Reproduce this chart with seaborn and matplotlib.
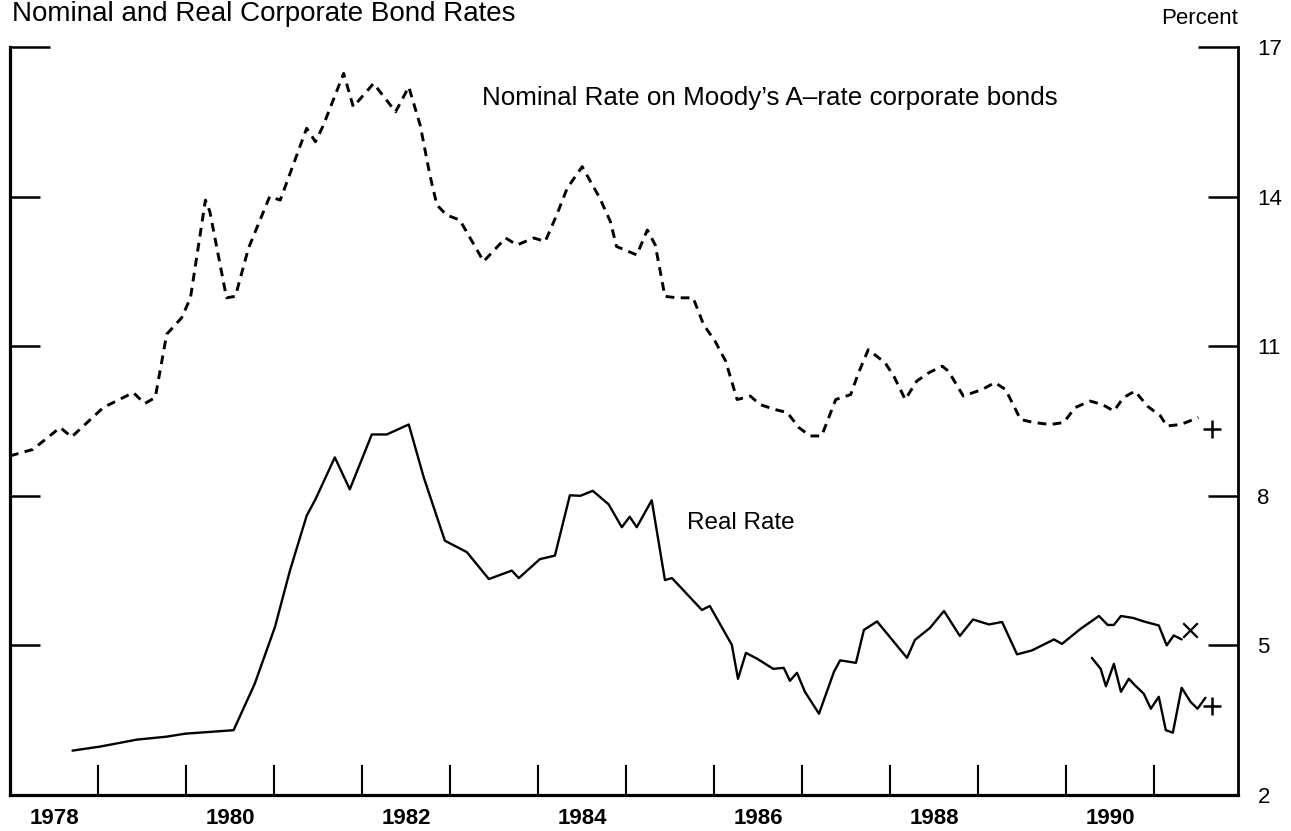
import matplotlib
matplotlib.use("Agg")
import matplotlib.pyplot as plt
import seaborn as sns

# nominal rate on Moody's A-rated corporate bonds (percent)
nominal_t = [1978.00, 1978.26, 1978.57, 1978.70, 1979.06, 1979.40, 1979.53, 1979.65, 1979.78,
             1979.95, 1980.05, 1980.22, 1980.27, 1980.46, 1980.56, 1980.71, 1980.95, 1981.07,
             1981.37, 1981.47, 1981.56, 1981.79, 1981.90, 1982.13, 1982.38, 1982.53, 1982.66,
             1982.77, 1982.85, 1982.96, 1983.11, 1983.38, 1983.63, 1983.76, 1983.95, 1984.08,
             1984.21, 1984.33, 1984.50, 1984.70, 1984.82, 1984.89, 1985.12, 1985.24, 1985.33,
             1985.44, 1985.58, 1985.76, 1985.88, 1986.01, 1986.13, 1986.26, 1986.41, 1986.52,
             1986.69, 1986.83, 1986.96, 1987.09, 1987.22, 1987.38, 1987.55, 1987.64, 1987.75,
             1987.94, 1988.04, 1988.17, 1988.30, 1988.44, 1988.59, 1988.66, 1988.83, 1989.04,
             1989.19, 1989.31, 1989.48, 1989.63, 1989.82, 1989.97, 1990.10, 1990.27, 1990.41,
             1990.54, 1990.65, 1990.78, 1990.92, 1991.07, 1991.14, 1991.30, 1991.50]
nominal_v = [8.80, 8.93, 9.37, 9.18, 9.77, 10.07, 9.85, 9.97, 11.24,
             11.57, 11.97, 13.93, 13.70, 11.97, 12.00, 12.97, 14.00, 13.93,
             15.37, 15.10, 15.43, 16.47, 15.80, 16.27, 15.70, 16.20, 15.43,
             14.43, 13.83, 13.63, 13.53, 12.70, 13.17, 13.03, 13.17, 13.10,
             13.63, 14.17, 14.60, 13.97, 13.50, 13.00, 12.83, 13.33, 13.03,
             12.00, 11.97, 11.97, 11.43, 11.10, 10.70, 9.93, 10.00, 9.83,
             9.73, 9.67, 9.37, 9.20, 9.20, 9.93, 10.03, 10.47, 10.93,
             10.67, 10.40, 9.93, 10.30, 10.47, 10.60, 10.50, 10.00, 10.13,
             10.27, 10.13, 9.53, 9.47, 9.43, 9.47, 9.77, 9.90, 9.83,
             9.70, 9.97, 10.10, 9.80, 9.60, 9.40, 9.43, 9.57]

# real rate (percent)
real_t = [1978.71, 1979.02, 1979.44, 1979.78, 1979.99, 1980.31, 1980.54, 1980.78, 1981.01,
          1981.18, 1981.37, 1981.47, 1981.69, 1981.86, 1982.11, 1982.28, 1982.53, 1982.70,
          1982.94, 1983.19, 1983.44, 1983.70, 1983.78, 1984.02, 1984.19, 1984.36, 1984.48,
          1984.62, 1984.80, 1984.95, 1985.04, 1985.12, 1985.29, 1985.44, 1985.52, 1985.86,
          1985.95, 1986.20, 1986.27, 1986.36, 1986.49, 1986.67, 1986.79, 1986.86, 1986.94,
          1987.03, 1987.19, 1987.36, 1987.43, 1987.61, 1987.70, 1987.85, 1988.19, 1988.28,
          1988.45, 1988.61, 1988.79, 1988.94, 1989.12, 1989.27, 1989.44, 1989.61, 1989.86,
          1989.95, 1990.16, 1990.37, 1990.47, 1990.54, 1990.62, 1990.76, 1990.88, 1991.05,
          1991.14, 1991.22, 1991.31]
real_v = [2.89, 2.97, 3.11, 3.17, 3.23, 3.27, 3.30, 4.23, 5.37,
          6.50, 7.60, 7.93, 8.77, 8.13, 9.23, 9.23, 9.43, 8.37,
          7.10, 6.87, 6.33, 6.50, 6.35, 6.73, 6.80, 8.01, 8.00,
          8.10, 7.83, 7.37, 7.58, 7.37, 7.91, 6.31, 6.35, 5.71,
          5.79, 5.01, 4.33, 4.85, 4.73, 4.53, 4.55, 4.29, 4.45,
          4.07, 3.63, 4.47, 4.70, 4.65, 5.31, 5.48, 4.75, 5.11,
          5.35, 5.69, 5.19, 5.52, 5.42, 5.47, 4.82, 4.90, 5.12,
          5.03, 5.33, 5.59, 5.41, 5.41, 5.59, 5.55, 5.48, 5.40,
          5.00, 5.20, 5.12]

# alternative real rate series from 1990
real2_t = [1990.29, 1990.39, 1990.45, 1990.54, 1990.62, 1990.71, 1990.78, 1990.88,
           1990.96, 1991.05, 1991.13, 1991.21, 1991.31, 1991.41, 1991.49, 1991.58]
real2_v = [4.75, 4.53, 4.18, 4.63, 4.07, 4.33, 4.20, 4.03,
           3.73, 3.97, 3.30, 3.25, 4.15, 3.87, 3.73, 3.95]

# end-point markers
plus_t = [1991.66, 1991.66]
plus_v = [9.33, 3.78]
cross_t = [1991.40]
cross_v = [5.31]

year_ticks = list(range(1979, 1992))
year_labels = ["1978", "1980", "1982", "1984", "1986", "1988", "1990"]
y_ticks = [2, 5, 8, 11, 14, 17]

sns.set_style("ticks")
plt.rcParams["font.family"] = ["Liberation Sans", "DejaVu Sans"]
plt.rcParams.update({"text.color": "black", "axes.edgecolor": "black",
                     "xtick.color": "black", "ytick.color": "black",
                     "axes.labelcolor": "black"})

fig = plt.figure(figsize=(12.91, 8.31), dpi=100)
ax = fig.add_axes([10 / 1291, 36 / 831, 1228 / 1291, 748 / 831])

sns.lineplot(x=nominal_t, y=nominal_v, ax=ax, color="black", lw=2.1,
             linestyle=(0, (3.0, 2.2)), estimator=None, errorbar=None)
sns.lineplot(x=real_t, y=real_v, ax=ax, color="black", lw=1.7,
             estimator=None, errorbar=None)
sns.lineplot(x=real2_t, y=real2_v, ax=ax, color="black", lw=1.7,
             estimator=None, errorbar=None)
sns.scatterplot(x=plus_t, y=plus_v, ax=ax, marker="+", s=150, color="black", linewidth=1.8)
sns.scatterplot(x=cross_t, y=cross_v, ax=ax, marker="x", s=110, color="black", linewidth=1.6)

ax.set_xlim(1978, 1991.95)
ax.set_ylim(2, 17)
ax.set_xlabel("")
ax.set_ylabel("")

# frame: no top spine
ax.spines["top"].set_visible(False)
for side in ["left", "bottom"]:
    ax.spines[side].set_linewidth(2.3)
ax.spines["right"].set_linewidth(2.0)

ax.set_xticks(year_ticks)
ax.set_xticklabels([])
ax.set_xticks([int(y) + 0.5 for y in year_labels], year_labels, minor=True)
ax.tick_params(axis="x", which="major", direction="in", length=21.5, width=1.5)
ax.tick_params(axis="x", which="minor", length=0, pad=9, labelsize=16)
for lab in ax.get_xticklabels(minor=True):
    lab.set_fontweight("bold")

ax.set_yticks(y_ticks)
ax.set_yticklabels([str(v) for v in y_ticks])
ax.tick_params(axis="y", direction="in", length=21.5, width=1.8,
               left=True, right=True, labelleft=False, labelright=True,
               labelsize=16, pad=14)
# the top tick is a little longer on both sides
top_tick = ax.yaxis.get_major_ticks()[-1]
top_tick.tick1line.set_markersize(29)
top_tick.tick2line.set_markersize(29)

ax.text(1983.36, 15.83, "Nominal Rate on Moody\u2019s A\u2013rate corporate bonds",
        fontsize=18.7, va="baseline", ha="left")
ax.text(1985.69, 7.33, "Real Rate", fontsize=17.5, va="baseline", ha="left")

fig.text(12 / 1291, 1 - 21 / 831, "Nominal and Real Corporate Bond Rates",
         fontsize=20, va="baseline", ha="left")
fig.text(1238 / 1291, 1 - 18 / 831, "Percent", fontsize=16, va="center", ha="right")

fig.savefig("out.png", dpi=100)
